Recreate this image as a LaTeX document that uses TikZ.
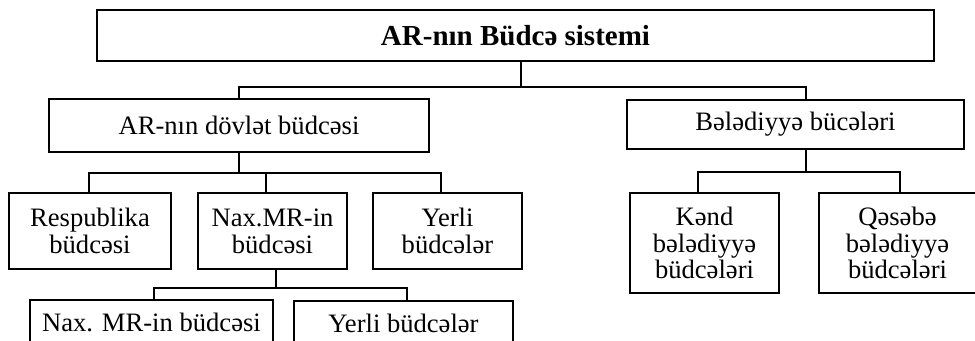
\documentclass[tikz,border=0pt]{standalone}
\usepackage{fontspec}
\setmainfont{Liberation Serif}
\usetikzlibrary{positioning}

\begin{document}
\begin{tikzpicture}[x=0.5pt,y=-0.5pt,line width=0.9pt,
    blok/.style={draw,align=center,inner sep=0pt,font=\fontsize{13.3}{13.4}\selectfont},
    basblok/.style={blok,font=\fontsize{14.5}{16}\selectfont\bfseries}]
            \useasboundingbox (0,0) rectangle (975,341);
            \clip (0,0) rectangle (975,341);
            %bloklar
            \node[basblok,minimum width=418.5pt,minimum height=25.5pt] (sistem) at (515.5,35.5) {AR-nın Büdcə sistemi};
            \node[blok,minimum width=190pt,minimum height=26.5pt] (dovlet) at (239,125.5) {AR-nın dövlət büdcəsi};
            \node[blok,minimum width=168.5pt,minimum height=24.5pt] (beled) at (795.5,124.5) {Bələdiyyə bücələri};
            \node[blok,minimum width=81pt,minimum height=38pt] (resp) at (90,231) {Respublika\\büdcəsi};
            \node[blok,minimum width=74.5pt,minimum height=38pt] (nax) at (272.5,231) {Nax.MR-in\\büdcəsi};
            \node[blok,minimum width=74.5pt,minimum height=38pt] (yerli) at (447.5,231) {Yerli\\büdcələr};
            \node[blok,minimum width=121.5pt,minimum height=22pt] (naxb) at (151.5,322) {Nax. MR-in büdcəsi};
            \node[blok,minimum width=109.5pt,minimum height=22pt] (yerlib) at (403.5,323) {Yerli büdcələr};
            \node[blok,minimum width=74.5pt,minimum height=50pt] (kend) at (704.5,243) {Kənd\\bələdiyyə\\büdcələri};
            \node[blok,minimum width=78.5pt,minimum height=50pt] (qeseb) at (897.5,243) {Qəsəbə\\bələdiyyə\\büdcələri};
            %xetler
            \coordinate (j1) at (521,87);
            \coordinate (j2) at (239,173);
            \coordinate (j3) at (276,288);
            \coordinate (j4) at (806,172);
            \draw (j1 |- sistem.south) -- (j1) -| (dovlet.north);
            \draw (j1) -| ([xshift=5.25pt]beled.north);
            \draw (dovlet.south) -- (j2) -| ([xshift=-0.5pt]resp.north);
            \draw (j2) -| ([xshift=-3.25pt]nax.north);
            \draw (j2) -| ([xshift=-3.25pt]yerli.north);
            \draw ([xshift=1.75pt]nax.south) -- (j3) -| ([xshift=1.25pt]naxb.north);
            \draw (j3) -| ([xshift=1.75pt]yerlib.north);
            \draw ([xshift=5.25pt]beled.south) -- (j4) -| ([xshift=-3.25pt]kend.north);
            \draw (j4) -| ([xshift=1.25pt]qeseb.north);
        \end{tikzpicture}
\end{document}
